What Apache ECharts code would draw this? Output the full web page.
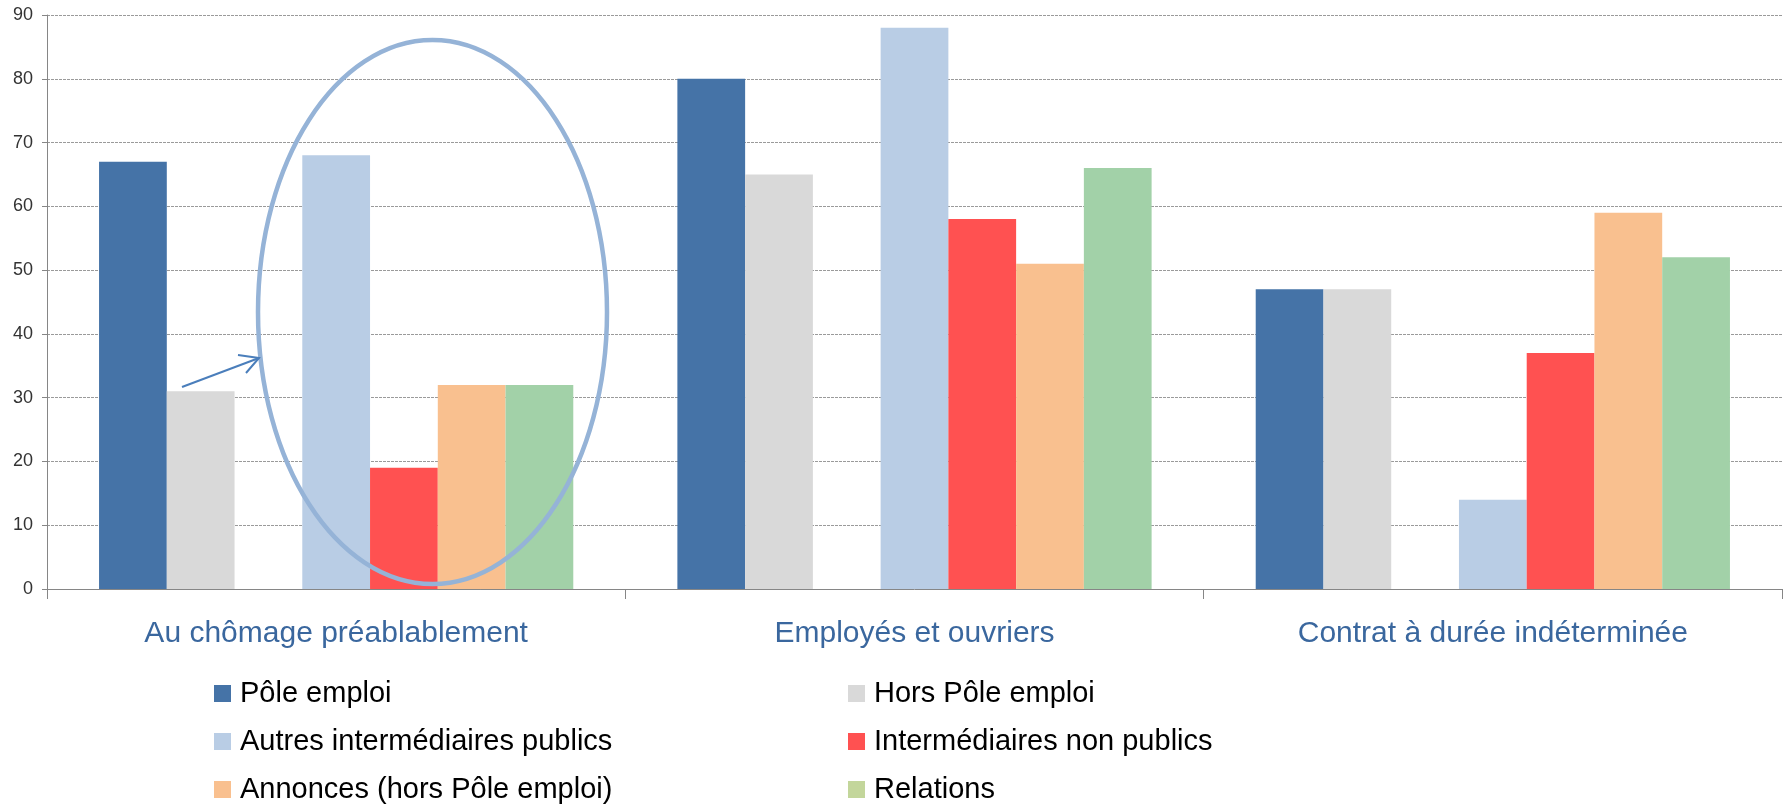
<!DOCTYPE html>
<html>
<head>
<meta charset="utf-8">
<title>Intermédiaires</title>
<script src="https://cdn.jsdelivr.net/npm/echarts@6/dist/echarts.min.js"></script>
<style>
  html, body { margin: 0; padding: 0; background: #fff; }
  #chart { width: 1789px; height: 806px; }
</style>
</head>
<body>
<div id="chart"></div>
<script>
// données
const categories = ['Au chômage préablablement', 'Employés et ouvriers', 'Contrat à durée indéterminée']
const poleEmploi = [67, 80, 47]
const horsPoleEmploi = [31, 65, 47]
const autresPublics = [68, 88, 14]
const nonPublics = [19, 58, 37]
const annonces = [32, 51, 59]
const relations = [32, 66, 52]
const yTicks = [0, 10, 20, 30, 40, 50, 60, 70, 80, 90]

const font = "'Liberation Sans', Arial, sans-serif"

const mkBar = (name, data, color) => ({
  name,
  type: 'bar',
  data,
  barGap: 0,
  barCategoryGap: '18%',
  itemStyle: { color },
  emphasis: { disabled: true }
})

const legendText = {
  color: '#000',
  fontSize: 29,
  lineHeight: 29,
  fontFamily: font,
  padding: [0, 0, 0, 4]
}

const mkLegend = (left, data) => ({
  orient: 'vertical',
  left,
  top: 679,
  height: 130,
  padding: 0,
  itemWidth: 17,
  itemHeight: 17,
  itemGap: 19,
  icon: 'rect',
  selectedMode: false,
  textStyle: legendText,
  data
})

const chart = echarts.init(document.getElementById('chart'), null, { renderer: 'canvas' })

const option = {
  animation: false,
  grid: { left: 47, right: 7, top: 15, bottom: 217, containLabel: false },
  legend: [
    mkLegend(214, [
      { name: 'Pôle emploi' },
      { name: 'Autres intermédiaires publics' },
      { name: 'Annonces (hors Pôle emploi)' }
    ]),
    mkLegend(848, [
      { name: 'Hors Pôle emploi' },
      { name: 'Intermédiaires non publics' },
      { name: 'Relations', itemStyle: { color: '#C3D69B' } }
    ])
  ],
  xAxis: {
    type: 'category',
    data: categories,
    axisLine: { lineStyle: { color: '#868686', width: 1 } },
    axisTick: { show: true, length: 10, interval: 0, lineStyle: { color: '#868686' } },
    axisLabel: {
      color: '#3A679E',
      fontSize: 30,
      fontFamily: font,
      margin: 30,
      interval: 0
    },
    splitLine: { show: false }
  },
  yAxis: {
    type: 'value',
    min: yTicks[0],
    max: yTicks[yTicks.length - 1],
    interval: 10,
    axisLine: { show: true, lineStyle: { color: '#868686', width: 1 } },
    axisTick: { show: true, length: 5, lineStyle: { color: '#868686' } },
    axisLabel: {
      color: '#333',
      fontSize: 18,
      fontFamily: font,
      margin: 14
    },
    splitLine: {
      lineStyle: {
        //分割线
        color: '#9a9a9a',
        width: 1,
        type: [3, 1]
      }
    }
  },
  series: [
    mkBar('Pôle emploi', poleEmploi, '#4573A7'),
    mkBar('Hors Pôle emploi', horsPoleEmploi, '#D9D9D9'),
    // emplacement vide entre les deux blocs
    mkBar('', categories.map(() => null), 'transparent'),
    mkBar('Autres intermédiaires publics', autresPublics, '#B9CDE5'),
    mkBar('Intermédiaires non publics', nonPublics, '#FF5151'),
    mkBar('Annonces (hors Pôle emploi)', annonces, '#F9C08F'),
    mkBar('Relations', relations, '#A2D1A8')
  ]
}
chart.setOption(option)

// annotation : ellipse + flèche
chart.setOption({
  graphic: [
    {
      type: 'ellipse',
      z: 100,
      shape: { cx: 432.5, cy: 312, rx: 174.5, ry: 272 },
      style: { fill: 'none', stroke: '#95B3D7', lineWidth: 4.5 }
    },
    {
      type: 'polyline',
      z: 100,
      shape: { points: [[182, 387], [259, 358]] },
      style: { stroke: '#4A7EBB', lineWidth: 2, fill: 'none' }
    },
    {
      type: 'polyline',
      z: 100,
      shape: { points: [[238, 355], [259, 358], [246, 373]] },
      style: { stroke: '#4A7EBB', lineWidth: 2, fill: 'none' }
    }
  ]
})
</script>
</body>
</html>
